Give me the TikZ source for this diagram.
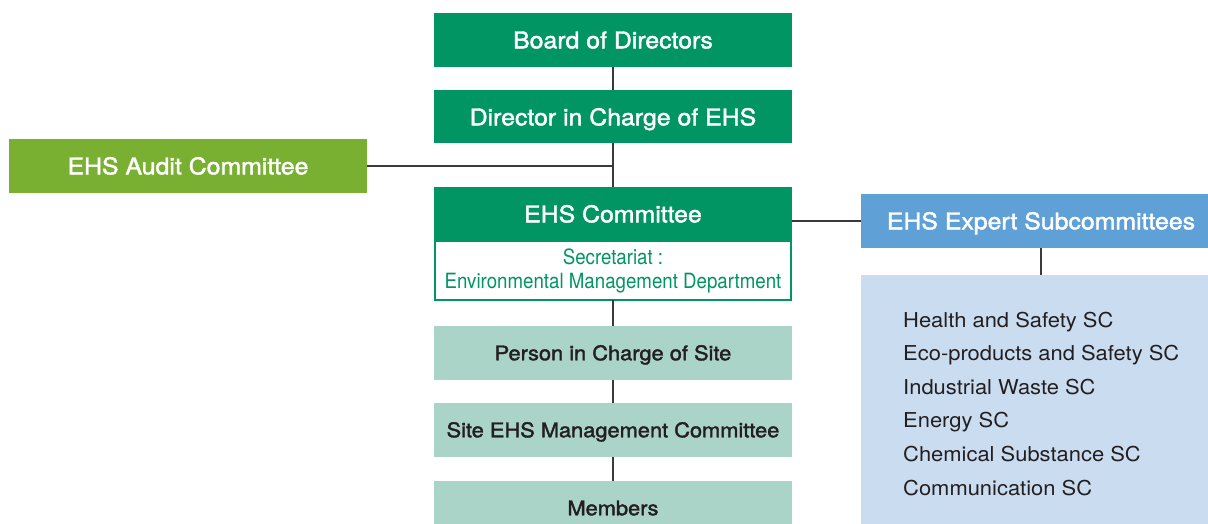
\documentclass[tikz,border=0pt]{standalone}
\usepackage{fontspec}
\setmainfont{TeX Gyre Heros}
\newfontfamily\narrowfont[FakeStretch=0.89]{TeX Gyre Heros}
\newfontfamily\medfont[FakeStretch=1.08,FakeBold=1.8]{TeX Gyre Heros}
\newfontfamily\listfont[FakeStretch=1.07]{TeX Gyre Heros}
\definecolor{dgreen}{HTML}{009563}
\definecolor{lgreen}{HTML}{7AB032}
\definecolor{mint}{HTML}{AAD4C8}
\definecolor{eblue}{HTML}{5FA0D6}
\definecolor{lblue}{HTML}{CADCF0}
\definecolor{ink}{HTML}{231F20}
\definecolor{lineg}{HTML}{3A3A3A}
\begin{document}
\begin{tikzpicture}[x=1pt,y=-1pt,
  box/.style={minimum width=358pt,minimum height=54pt,inner sep=0pt,outer sep=0pt,align=center},
  topbox/.style={box,fill=dgreen,text=white,text height=16.6pt,text depth=0pt,font=\medfont\fontsize{23}{27}\selectfont},
  sitebox/.style={box,fill=mint,text=ink,text height=14.5pt,text depth=0pt,font=\medfont\fontsize{20.2}{24}\selectfont},
  conn/.style={draw=lineg,line width=1.2pt},
  item/.style={anchor=base west,inner sep=0pt,text=ink,font=\listfont\fontsize{20.5}{24}\selectfont}]
\useasboundingbox (0,0) rectangle (1208,524);
\clip (0,0) rectangle (1208,524);
\fill[white] (0,0) rectangle (1208,524);
% nodes
\node[topbox] (board) at (613,40) {Board of Directors};
\node[topbox,minimum height=53pt] (director) at (613,117) {Director in Charge of EHS};
\node[topbox,fill=lgreen] (audit) at (188,166) {EHS Audit Committee};
\node[topbox] (committee) at (613,214) {EHS Committee};
\node[box,minimum height=59pt,draw=dgreen,line width=2pt,fill=white,text=dgreen,
  font=\narrowfont\fontsize{21}{24}\selectfont,minimum width=356pt] (secr) at (613,270.5)
  {Secretariat :\\Environmental Management Department};
\node[sitebox] (person) at (613,353) {Person in Charge of Site};
\node[sitebox] (site) at (613,430) {Site EHS Management Committee};
\node[sitebox] (members) at (613,508) {Members};
\node[topbox,fill=eblue,minimum width=360pt] (expert) at (1041,221) {EHS Expert Subcommittees};
\node[box,fill=lblue,minimum width=360pt,minimum height=260pt] (list) at (1041,405) {};
% list items
\node[item] (i1) at (903,327) {Health and Safety SC};
\node[item] (i2) at (903,360.6) {Eco-products and Safety SC};
\node[item] (i3) at (903,394.2) {Industrial Waste SC};
\node[item] (i4) at (903,427.8) {Energy SC};
\node[item] (i5) at (903,461.4) {Chemical Substance SC};
\node[item] (i6) at (903,495) {Communication SC};
% connectors
\draw[conn] (board.south) -- (director.north);
\draw[conn] (director.south) -- (committee.north);
\coordinate (aj) at (audit.east -| director.south);
\draw[conn] (audit.east) -- (aj);
\draw[conn] (secr.south) -- (person.north);
\draw[conn] (person.south) -- (site.north);
\draw[conn] (site.south) -- (members.north);
\coordinate (ej) at (expert.west -| committee.east);
\draw[conn] (ej) -- (expert.west);
\draw[conn] (expert.south) -- (list.north);
\end{tikzpicture}
\end{document}
